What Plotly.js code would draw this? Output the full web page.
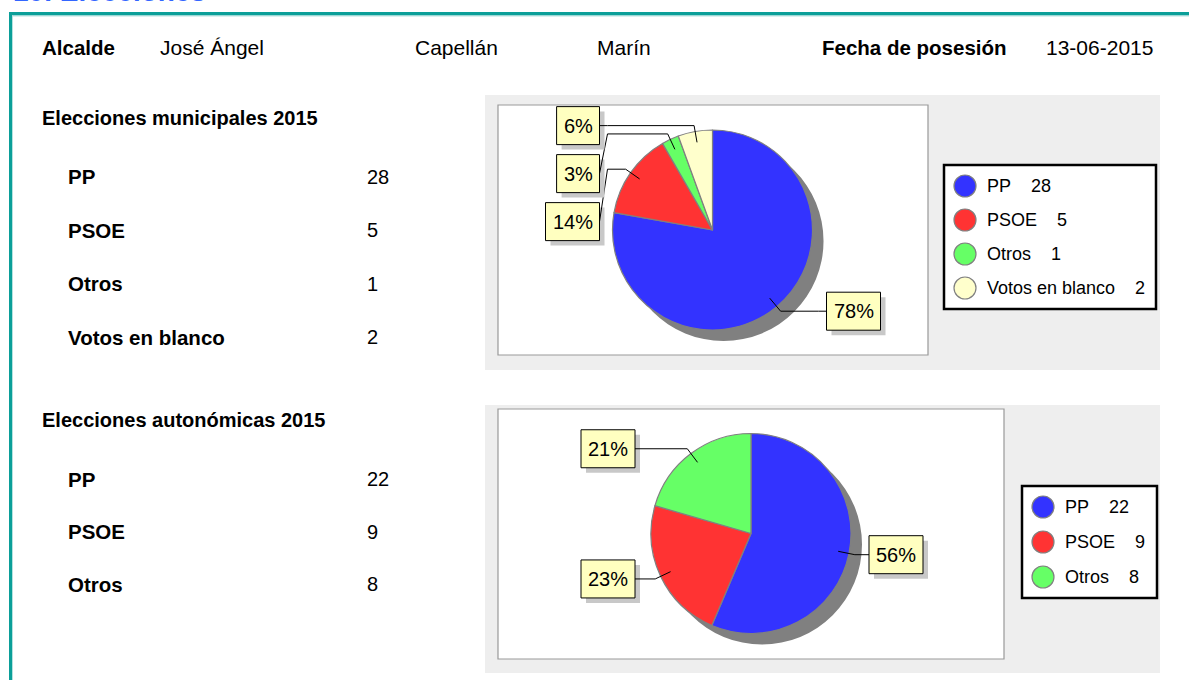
<!DOCTYPE html>
<html>
<head>
<meta charset="utf-8">
<script src="https://cdn.plot.ly/plotly-3.0.1.min.js"></script>
<style>
html,body{margin:0;padding:0;background:#fff;}
#chart{width:1189px;height:680px;}
</style>
</head>
<body>
<div id="chart"></div>
<script>
// ---------- data ----------
const pageTitle = '10. Elecciones';
const headerLabels = ['Alcalde', 'Fecha de posesión'];
const mayorNames = ['José Ángel', 'Capellán', 'Marín'];
const possessionDate = '13-06-2015';

const muniTitle = 'Elecciones municipales 2015';
const muniParties = ['PP', 'PSOE', 'Otros', 'Votos en blanco'];
const muniVotes = [28, 5, 1, 2];

const autoTitle = 'Elecciones autonómicas 2015';
const autoParties = ['PP', 'PSOE', 'Otros'];
const autoVotes = [22, 9, 8];

const partyColors = ['#3333FF', '#FF3333', '#66FF66', '#FFFFCC'];

// ---------- helpers ----------
const W = 1189, H = 680;
const FONT = 'Liberation Sans, Arial, sans-serif';
const X = p => p / W;
const Y = p => 1 - p / H;

const shapes = [];
const annotations = [];
const traces = [];

function rect(x0, y0, x1, y1, fill, line, lw, layer) {
  shapes.push({type: 'rect', xref: 'paper', yref: 'paper',
    x0: X(x0), x1: X(x1), y0: Y(y1), y1: Y(y0),
    fillcolor: fill, line: {color: line || fill, width: lw === undefined ? 0 : lw},
    layer: layer || 'above'});
}
function seg(x0, y0, x1, y1, color, w) {
  shapes.push({type: 'line', xref: 'paper', yref: 'paper',
    x0: X(x0), x1: X(x1), y0: Y(y0), y1: Y(y1),
    line: {color: color, width: w}, layer: 'above'});
}
function text(t, x, y, size, opts) {
  opts = opts || {};
  annotations.push(Object.assign({
    text: t, xref: 'paper', yref: 'paper', x: X(x - 2), y: Y(y),
    xanchor: 'left', yanchor: 'middle', showarrow: false,
    font: {family: FONT, size: size, color: '#000'}
  }, opts));
}

// ---------- frame ----------
text('<b>' + pageTitle + '</b>', 13, -9, 28, {font: {family: FONT, size: 28, color: '#3366FF'}});
rect(9, 12, 1189, 15.5, '#0b9f99');
rect(9, 12, 12, 680, '#0b9f99');
rect(12, 15.5, 1189, 16.5, '#b5e2df');
rect(12, 15.5, 13, 680, '#b5e2df');

// header row
const HY = 48;
text('<b>' + headerLabels[0] + '</b>', 42, HY, 20.5);
text(mayorNames[0], 160, HY, 21);
text(mayorNames[1], 415, HY, 21);
text(mayorNames[2], 597, HY, 21);
text('<b>' + headerLabels[1] + '</b>', 822, HY, 20.5);
text(possessionDate, 1046, HY, 21);

// ---------- sections ----------
function section(title, parties, votes, cfg) {
  // left table
  text('<b>' + title + '</b>', 42, cfg.titleY, 20);
  parties.forEach((p, i) => {
    const y = cfg.rowY0 + i * cfg.rowStep;
    text('<b>' + p + '</b>', 68, y, 20.5);
    text(String(votes[i]), 367, y, 20);
  });

  // panels
  rect(cfg.panel[0], cfg.panel[1], cfg.panel[2], cfg.panel[3], '#EEEEEE', null, 0, 'below');
  rect(cfg.box[0], cfg.box[1], cfg.box[2], cfg.box[3], '#FFFFFF', '#999999', 1.2, 'below');

  const cx = cfg.cx, cy = cfg.cy, R = cfg.R, off = 11;
  const colors = partyColors.slice(0, votes.length);
  const total = votes.reduce((a, b) => a + b, 0);

  // shadow pie
  traces.push({
    type: 'pie', values: [total], labels: ['s'], sort: false,
    marker: {colors: ['#808080'], line: {width: 0}},
    textinfo: 'none', hoverinfo: 'none', showlegend: false,
    domain: {x: [X(cx - R + off), X(cx + R + off)], y: [Y(cy + R + off), Y(cy - R + off)]}
  });
  // main pie
  traces.push({
    type: 'pie', values: votes, labels: parties, sort: false,
    direction: 'clockwise', rotation: 0,
    marker: {colors: colors, line: {color: '#808080', width: 1.2}},
    textinfo: 'none', hoverinfo: 'none', showlegend: false,
    domain: {x: [X(cx - R), X(cx + R)], y: [Y(cy + R), Y(cy - R)]}
  });

  // percentage callouts
  let acc = 0;
  const items = votes.map((v, i) => {
    const mid = (acc + v / 2) / total * 2 * Math.PI;
    acc += v;
    const s = Math.sin(mid), c = Math.cos(mid);
    const pct = Math.round(v / total * 100) + '%';
    return {
      pct: pct,
      side: s >= 0 ? 1 : -1,
      ax: cx + 0.89 * R * s, ay: cy - 0.89 * R * c,
      ex: cx + 1.06 * R * s, ey: cy - 1.06 * R * c
    };
  });
  [1, -1].forEach(side => {
    const group = items.filter(it => it.side === side).sort((a, b) => a.ey - b.ey);
    let prev = -1e9;
    group.forEach(it => {
      it.by = Math.max(it.ey, prev + 48);
      prev = it.by;
    });
  });
  items.forEach(it => {
    const digits = it.pct.length - 1;
    const bw = digits * 11.1 + 17.8 + 14;
    const bh = 38;
    const edge = cx + it.side * (it.side > 0 ? cfg.gapR : cfg.gapL);
    const bx0 = it.side > 0 ? edge : edge - bw;
    const by0 = it.by - bh / 2;
    // shadow + box
    rect(bx0 + 5, by0 + 5, bx0 + bw + 5, by0 + bh + 5, '#C8C8C8');
    rect(bx0, by0, bx0 + bw, by0 + bh, '#FFFFC0', '#000000', 1);
    // leader
    seg(it.ax, it.ay, it.ex, it.ey, '#000', 1);
    const knee = edge - it.side * 8;
    seg(it.ex, it.ey, knee, it.ey, '#000', 1);
    seg(knee, it.ey, edge, it.by, '#000', 1);
    text(it.pct, bx0 + bw / 2 + 2, it.by, 20, {xanchor: 'center'});
  });

  // legend
  const L = cfg.legend;
  const lh = 42 + (votes.length - 1) * L.step;
  rect(L.x0, L.y0, L.x1, L.y0 + lh, '#FFFFFF', '#000000', 2.5);
  votes.forEach((v, i) => {
    const yy = L.y0 + 21 + i * L.step;
    const ccx = L.x0 + 21;
    shapes.push({type: 'circle', xref: 'paper', yref: 'paper',
      x0: X(ccx - 11), x1: X(ccx + 11), y0: Y(yy + 11), y1: Y(yy - 11),
      fillcolor: colors[i], line: {color: '#808080', width: 1.2}, layer: 'above'});
    text(parties[i] + '\u00a0\u00a0\u00a0\u00a0' + v, ccx + 22, yy, 18);
  });
}

section(muniTitle, muniParties, muniVotes, {
  titleY: 118, rowY0: 177, rowStep: 53.4,
  panel: [485, 95, 1160, 370], box: [498, 105, 928, 355],
  cx: 712.5, cy: 230, R: 100, gapL: 113, gapR: 114,
  legend: {x0: 944, y0: 165, x1: 1156, step: 34}
});
section(autoTitle, autoParties, autoVotes, {
  titleY: 420, rowY0: 479, rowStep: 52.5,
  panel: [485, 405, 1160, 673], box: [498, 409, 1004, 659],
  cx: 751, cy: 533.5, R: 100, gapL: 116, gapR: 118,
  legend: {x0: 1022, y0: 486, x1: 1157, step: 35}
});

const layout = {
  width: W, height: H,
  margin: {l: 0, r: 0, t: 0, b: 0},
  paper_bgcolor: '#FFFFFF', plot_bgcolor: '#FFFFFF',
  showlegend: false,
  shapes: shapes, annotations: annotations,
  font: {family: FONT}
};
Plotly.newPlot('chart', traces, layout, {displayModeBar: false, staticPlot: true});
</script>
</body>
</html>
